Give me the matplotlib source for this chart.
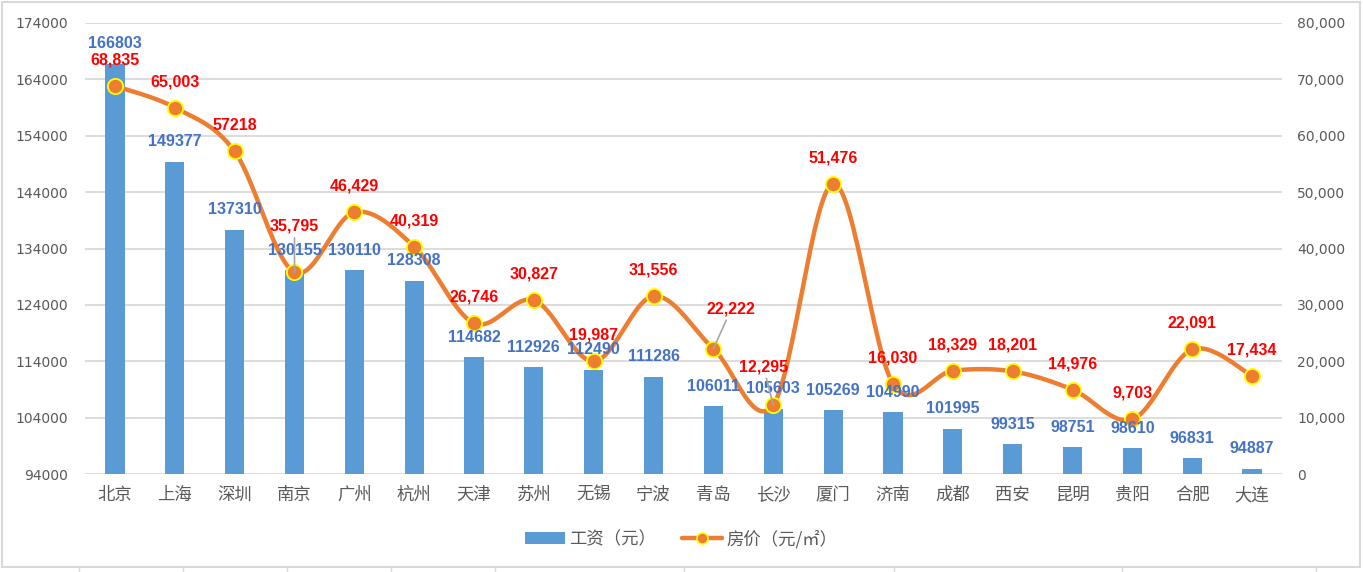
import numpy as np
import matplotlib.pyplot as plt
from matplotlib.lines import Line2D
from matplotlib.patches import Patch, Rectangle
from matplotlib.ticker import FuncFormatter

plt.rcParams['font.family'] = ['Noto Sans CJK SC', 'DejaVu Sans']

cities = ['北京', '上海', '深圳', '南京', '广州', '杭州', '天津', '苏州', '无锡', '宁波',
          '青岛', '长沙', '厦门', '济南', '成都', '西安', '昆明', '贵阳', '合肥', '大连']
wage = [166803, 149377, 137310, 130155, 130110, 128308, 114682, 112926, 112490, 111286,
        106011, 105603, 105269, 104990, 101995, 99315, 98751, 98610, 96831, 94887]
price = [68835, 65003, 57218, 35795, 46429, 40319, 26746, 30827, 19987, 31556,
         22222, 12295, 51476, 16030, 18329, 18201, 14976, 9703, 22091, 17434]
# label text as shown (some without thousands separator)
price_text = ['68,835', '65,003', '57218', '35,795', '46,429', '40,319', '26,746', '30,827',
              '19,987', '31,556', '22,222', '12,295', '51,476', '16,030', '18,329', '18,201',
              '14,976', '9,703', '22,091', '17,434']

BLUE = '#5B9BD5'
ORANGE = '#ED7D31'
GRAY = '#595959'
PX = 0.72  # points per pixel at dpi 100


def smooth(xs, ys, n=30):
    # Catmull-Rom style bezier through the points (like a smoothed line)
    xs = np.asarray(xs, float)
    ys = np.asarray(ys, float)
    P = np.column_stack([xs, ys])
    out = []
    for i in range(len(P) - 1):
        p0 = P[i - 1] if i > 0 else P[i]
        p1, p2 = P[i], P[i + 1]
        p3 = P[i + 2] if i + 2 < len(P) else P[i + 1]
        c1 = p1 + (p2 - p0) / 6
        c2 = p2 - (p3 - p1) / 6
        t = np.linspace(0, 1, n)[:, None]
        seg = (1 - t) ** 3 * p1 + 3 * (1 - t) ** 2 * t * c1 + 3 * (1 - t) * t ** 2 * c2 + t ** 3 * p2
        out.append(seg if i == 0 else seg[1:])
    out = np.vstack(out)
    return out[:, 0], out[:, 1]


fig = plt.figure(figsize=(13.63, 5.72), dpi=100)
ax = fig.add_axes([85 / 1363, 1 - 474 / 572, 1197 / 1363, 451 / 572])
ax2 = ax.twinx()

x = np.arange(len(cities))
ax.bar(x, wage, width=0.32, color=BLUE, zorder=2)
ax.set_ylim(94000, 174000)
ax.set_yticks(np.arange(94000, 174001, 10000))
ax.set_xlim(-0.5, len(cities) - 0.5)
ax.set_xticks(x)
ax.set_xticklabels(cities, fontsize=12.5, color=GRAY)
ax.grid(axis='y', color='#D9D9D9', lw=1.3, zorder=0)
ax.set_axisbelow(True)
for sp in ax.spines.values():
    sp.set_visible(False)
for sp in ax2.spines.values():
    sp.set_visible(False)
ax.tick_params(axis='y', length=0, pad=17 * PX, labelsize=10, labelcolor=GRAY)
ax.tick_params(axis='x', length=0, pad=12 * PX)
for lab in ax.get_yticklabels():
    lab.set_fontfamily('DejaVu Sans')

ax2.set_ylim(0, 80000)
ax2.set_yticks(np.arange(0, 80001, 10000))
ax2.yaxis.set_major_formatter(FuncFormatter(lambda v, p: f'{int(v):,}'))
ax2.tick_params(axis='y', length=0, pad=15 * PX, labelsize=10, labelcolor=GRAY)
for lab in ax2.get_yticklabels():
    lab.set_fontfamily('DejaVu Sans')

sx, sy = smooth(x, price)
ax2.plot(sx, sy, color=ORANGE, lw=3.2, solid_capstyle='round', zorder=3)
ax2.plot(x, price, 'o', ms=11, mfc=ORANGE, mec='#FFFF00', mew=1.3, zorder=4)

# bar labels
for i, v in enumerate(wage):
    ax2.annotate(str(v), (x[i], v), xycoords=ax.transData, xytext=(0, 20 * PX),
                 textcoords='offset points', ha='center', va='center',
                 fontsize=11.5, fontweight='bold', color='#4472C4',
                 family='Liberation Sans', zorder=6)

# line labels; a few are moved and get leader lines
moved = {3: (0, 46), 10: (18, 40), 11: (-10, 38)}
for i, v in enumerate(price):
    dx, dy = moved.get(i, (0, 26))
    kw = {}
    if i in moved:
        kw['arrowprops'] = dict(arrowstyle='-', color='#A6A6A6', lw=1.2, shrinkA=1, shrinkB=0)
    ax2.annotate(price_text[i], (x[i], v), xytext=(dx * PX, dy * PX),
                 textcoords='offset points', ha='center', va='center',
                 fontsize=11.5, fontweight='bold', color='#FF0000',
                 family='Liberation Sans', zorder=6, **kw)

handles = [Patch(facecolor=BLUE, edgecolor='none'),
           Line2D([], [], color=ORANGE, lw=3.2, marker='o', ms=8, mfc=ORANGE,
                  mec='#FFFF00', mew=1.2, solid_capstyle='round')]
leg = fig.legend(handles, ['工资（元）', '房价（元/㎡）'], loc='center',
                 bbox_to_anchor=(0.5, 1 - 539 / 572), ncol=2, frameon=False,
                 fontsize=12.5, handlelength=2.3, handleheight=0.7,
                 columnspacing=1.5, handletextpad=0.25)
for t in leg.get_texts():
    t.set_color(GRAY)

# chart frame and sheet cells below it
fig.patches.append(Rectangle((2 / 1363, 1 - 567 / 572), 1358 / 1363, 565 / 572,
                             transform=fig.transFigure, fill=False,
                             edgecolor='#D9D9D9', lw=1.5))
for cx in [79, 183, 287, 391, 495, 684, 894, 1122, 1316]:
    fig.add_artist(Line2D([cx / 1363, cx / 1363], [0, 4 / 572],
                          transform=fig.transFigure, color='#D9D9D9', lw=1))

fig.savefig('out.png', dpi=100)
